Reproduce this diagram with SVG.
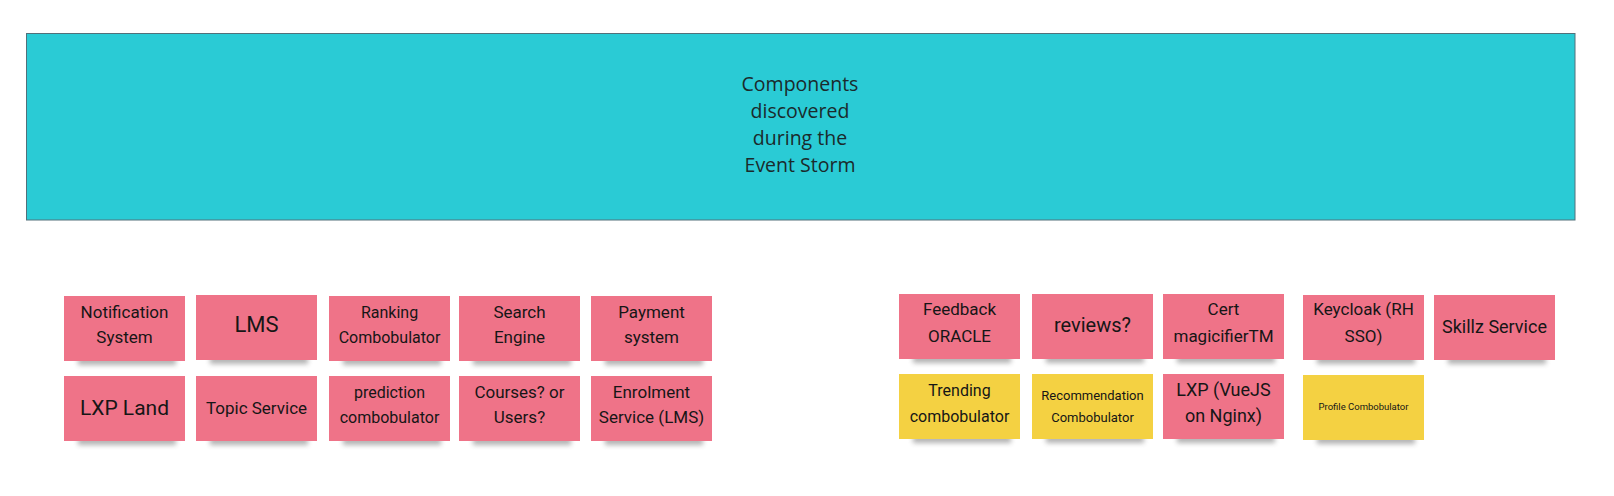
<svg xmlns="http://www.w3.org/2000/svg" width="1614" height="496" viewBox="0 0 1614 496">
<defs>
<filter id="blur" x="-20%" y="-100%" width="140%" height="300%"><feGaussianBlur stdDeviation="2.5"/></filter>
<style>
.title{font-family:"Open Sans","Noto Sans",sans-serif;font-size:19.5px;fill:#1b2a2c;text-anchor:middle}
.pink{fill:#ef7388}
.yellow{fill:#f4d142}
.sh{fill:#555;opacity:0.45;filter:url(#blur)}
.t{font-family:Roboto,"Noto Sans",sans-serif;fill:#161616;text-anchor:middle}
</style>
</defs>
<rect width="1614" height="496" fill="#ffffff"/>
<g id="banner">
<rect x="26.5" y="33.5" width="1548.5" height="186.5" fill="#2acbd5" stroke="#52707a" stroke-width="1"/>
<text class="title" x="800" y="91">Components</text>
<text class="title" x="800" y="118">discovered</text>
<text class="title" x="800" y="145">during the</text>
<text class="title" x="800" y="172">Event Storm</text>
</g>
<g id="connectors"></g>
<g id="notification-system"><rect class="sh" x="78" y="357" width="98" height="8"/><rect class="pink" x="64" y="296" width="121" height="65"/><text class="t" font-size="17" x="124.5" y="318">Notification</text><text class="t" font-size="17" x="124.5" y="343">System</text></g>
<g id="lms"><rect class="sh" x="210" y="356" width="98" height="8"/><rect class="pink" x="196" y="295" width="121" height="65"/><text class="t" font-size="22" x="256.5" y="332">LMS</text></g>
<g id="ranking-combobulator"><rect class="sh" x="343" y="357" width="98" height="8"/><rect class="pink" x="329" y="296" width="121" height="65"/><text class="t" font-size="16" x="389.5" y="318">Ranking</text><text class="t" font-size="16" x="389.5" y="343">Combobulator</text></g>
<g id="search-engine"><rect class="sh" x="473" y="357" width="98" height="8"/><rect class="pink" x="459" y="296" width="121" height="65"/><text class="t" font-size="17" x="519.5" y="318">Search</text><text class="t" font-size="17" x="519.5" y="343">Engine</text></g>
<g id="payment-system"><rect class="sh" x="605" y="357" width="98" height="8"/><rect class="pink" x="591" y="296" width="121" height="65"/><text class="t" font-size="17" x="651.5" y="318">Payment</text><text class="t" font-size="17" x="651.5" y="343">system</text></g>
<g id="lxp-land"><rect class="sh" x="78" y="437" width="98" height="8"/><rect class="pink" x="64" y="376" width="121" height="65"/><text class="t" font-size="21" x="124.5" y="415">LXP Land</text></g>
<g id="topic-service"><rect class="sh" x="210" y="437" width="98" height="8"/><rect class="pink" x="196" y="376" width="121" height="65"/><text class="t" font-size="17" x="256.5" y="414">Topic Service</text></g>
<g id="prediction-combobulator"><rect class="sh" x="343" y="437" width="98" height="8"/><rect class="pink" x="329" y="376" width="121" height="65"/><text class="t" font-size="16" x="389.5" y="398">prediction</text><text class="t" font-size="16" x="389.5" y="423">combobulator</text></g>
<g id="courses-or-users"><rect class="sh" x="473" y="437" width="98" height="8"/><rect class="pink" x="459" y="376" width="121" height="65"/><text class="t" font-size="17" x="519.5" y="398">Courses? or</text><text class="t" font-size="17" x="519.5" y="423">Users?</text></g>
<g id="enrolment-service"><rect class="sh" x="605" y="437" width="98" height="8"/><rect class="pink" x="591" y="376" width="121" height="65"/><text class="t" font-size="17" x="651.5" y="398">Enrolment</text><text class="t" font-size="17" x="651.5" y="423">Service (LMS)</text></g>
<g id="feedback-oracle"><rect class="sh" x="913" y="355" width="98" height="8"/><rect class="pink" x="899" y="294" width="121" height="65"/><text class="t" font-size="17" x="959.5" y="315">Feedback</text><text class="t" font-size="17" x="959.5" y="342">ORACLE</text></g>
<g id="reviews"><rect class="sh" x="1046" y="355" width="98" height="8"/><rect class="pink" x="1032" y="294" width="121" height="65"/><text class="t" font-size="20" x="1092.5" y="332">reviews?</text></g>
<g id="cert-magicifier"><rect class="sh" x="1177" y="355" width="98" height="8"/><rect class="pink" x="1163" y="294" width="121" height="65"/><text class="t" font-size="17" x="1223.5" y="315">Cert</text><text class="t" font-size="17" x="1223.5" y="342">magicifierTM</text></g>
<g id="keycloak"><rect class="sh" x="1317" y="356" width="98" height="8"/><rect class="pink" x="1303" y="295" width="121" height="65"/><text class="t" font-size="17" x="1363.5" y="315">Keycloak (RH</text><text class="t" font-size="17" x="1363.5" y="342">SSO)</text></g>
<g id="skillz-service"><rect class="sh" x="1448" y="356" width="98" height="8"/><rect class="pink" x="1434" y="295" width="121" height="65"/><text class="t" font-size="18" x="1494.5" y="333">Skillz Service</text></g>
<g id="trending-combobulator"><rect class="sh" x="913" y="435" width="98" height="8"/><rect class="yellow" x="899" y="374" width="121" height="65"/><text class="t" font-size="16" x="959.5" y="396">Trending</text><text class="t" font-size="16" x="959.5" y="422">combobulator</text></g>
<g id="recommendation-combobulator"><rect class="sh" x="1046" y="435" width="98" height="8"/><rect class="yellow" x="1032" y="374" width="121" height="65"/><text class="t" font-size="13" x="1092.5" y="400">Recommendation</text><text class="t" font-size="13" x="1092.5" y="422">Combobulator</text></g>
<g id="lxp-vuejs"><rect class="sh" x="1177" y="435" width="98" height="8"/><rect class="pink" x="1163" y="374" width="121" height="65"/><text class="t" font-size="18" x="1223.5" y="396">LXP (VueJS</text><text class="t" font-size="18" x="1223.5" y="422">on Nginx)</text></g>
<g id="profile-combobulator"><rect class="sh" x="1317" y="436" width="98" height="8"/><rect class="yellow" x="1303" y="375" width="121" height="65"/><text class="t" font-size="9.5" x="1363.5" y="410">Profile Combobulator</text></g>
</svg>
